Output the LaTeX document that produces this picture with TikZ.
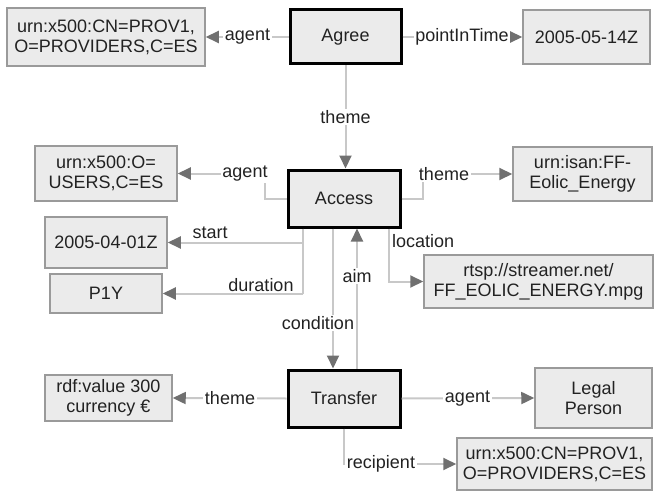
\documentclass[tikz,border=0pt]{standalone}
\usepackage{fontspec}
\setmainfont{Liberation Sans}
\usetikzlibrary{arrows.meta}
\definecolor{boxfill}{HTML}{EBEBEB}
\definecolor{leafline}{HTML}{9A9A9A}
\definecolor{connline}{HTML}{C8C8C8}
\definecolor{tipcol}{HTML}{707070}
\definecolor{txt}{HTML}{222222}
\begin{document}
\begin{tikzpicture}[x=1pt,y=-1pt,
  every node/.style={font=\fontsize{18}{20}\selectfont, inner sep=0pt, text=txt},
  leaf/.style={draw=leafline, line width=1.5pt, fill=boxfill, align=center},
  mainbox/.style={draw=black, line width=3pt, fill=boxfill, align=center},
  conn/.style={draw=connline, line width=2pt, -{Triangle[length=13pt, width=12pt, color=tipcol]}},
  connplain/.style={draw=connline, line width=2pt},
  lab/.style={fill=white, inner sep=1.5pt}]
\useasboundingbox (0,0) rectangle (655,492);

% nodes
\node[mainbox, minimum width=111pt, minimum height=54pt] (agree) at (345.5,37) {Agree};
\node[leaf, minimum width=198pt, minimum height=58pt] (urn1) at (106,37) {urn:x500:CN=PROV1,\\O=PROVIDERS,C=ES};
\node[leaf, minimum width=127pt, minimum height=54pt] (date1) at (586.5,37) {2005-05-14Z};
\node[mainbox, minimum width=112pt, minimum height=57pt] (access) at (344,198.5) {Access};
\node[leaf, minimum width=142pt, minimum height=55pt] (urn2) at (106,173.5) {urn:x500:O=\\USERS,C=ES};
\node[leaf, minimum width=139pt, minimum height=54pt] (urn3) at (582.5,174) {urn:isan:FF-\\Eolic\_Energy};
\node[leaf, minimum width=122pt, minimum height=51pt] (date2) at (106,242.5) {2005-04-01Z};
\node[leaf, minimum width=112pt, minimum height=39pt] (p1y) at (106,293.5) {P1Y};
\node[leaf, minimum width=229pt, minimum height=53pt] (rtsp) at (538.5,281.5) {rtsp://streamer.net/\\FF\_EOLIC\_ENERGY.mpg};
\node[mainbox, minimum width=112pt, minimum height=57pt] (transfer) at (344,398.5) {Transfer};
\node[leaf, minimum width=127pt, minimum height=46pt] (rdf) at (108.5,398) {rdf:value 300\\currency €};
\node[leaf, minimum width=117pt, minimum height=60pt] (legal) at (593.5,398) {Legal\\Person};
\node[leaf, minimum width=195pt, minimum height=52pt] (urn4) at (554.5,464) {urn:x500:CN=PROV1,\\O=PROVIDERS,C=ES};

% connectors
\draw[conn] (agree.west) -- (urn1.east);
\draw[conn] (agree.east) -- (date1.west);
\draw[conn] (agree.south) -- (agree.south |- access.north);
\draw[conn] (access.west) -- (265,0 |- access.west) |- (urn2.east);
\draw[conn] (access.east) -- (423,0 |- access.east) |- (urn3.west);
\coordinate (sdtop) at (303,0 |- access.south);
\coordinate (sdbot) at (303,0 |- p1y.east);
\draw[connplain] (sdtop) -- (sdbot);
\draw[conn] (sdtop |- date2.east) -- (date2.east);
\draw[conn] (sdbot) -- (p1y.east);
\draw[conn] (333,0 |- access.south) -- (333,0 |- transfer.north);
\draw[conn] (357,0 |- transfer.north) -- (357,0 |- access.south);
\draw[conn] (389,0 |- access.south) |- (rtsp.west);
\draw[conn] (transfer.west) -- (rdf.east);
\draw[conn] (transfer.east) -- (legal.west);
\draw[conn] (transfer.south) |- (urn4.west);

% labels
\node[lab] (l1) at (247.5,37) {agent};
\node[lab] (l2) at (462,37) {pointInTime};
\node[lab] (l3) at (345.5,117) {theme};
\node[lab] (l4) at (245,173.5) {agent};
\node[lab] (l5) at (444,174) {theme};
\node (l6) at (210,233) {start};
\node (l7) at (261,285) {duration};
\node[lab] (l8) at (318,323) {condition};
\node[lab] (l9) at (357,276) {aim};
\node[anchor=west] (l10) at (392,241) {location};
\node[lab] (l11) at (230,398) {theme};
\node[lab] (l12) at (467.5,398.5) {agent};
\node[lab] (l13) at (381,464) {recipient};
\end{tikzpicture}
\end{document}
